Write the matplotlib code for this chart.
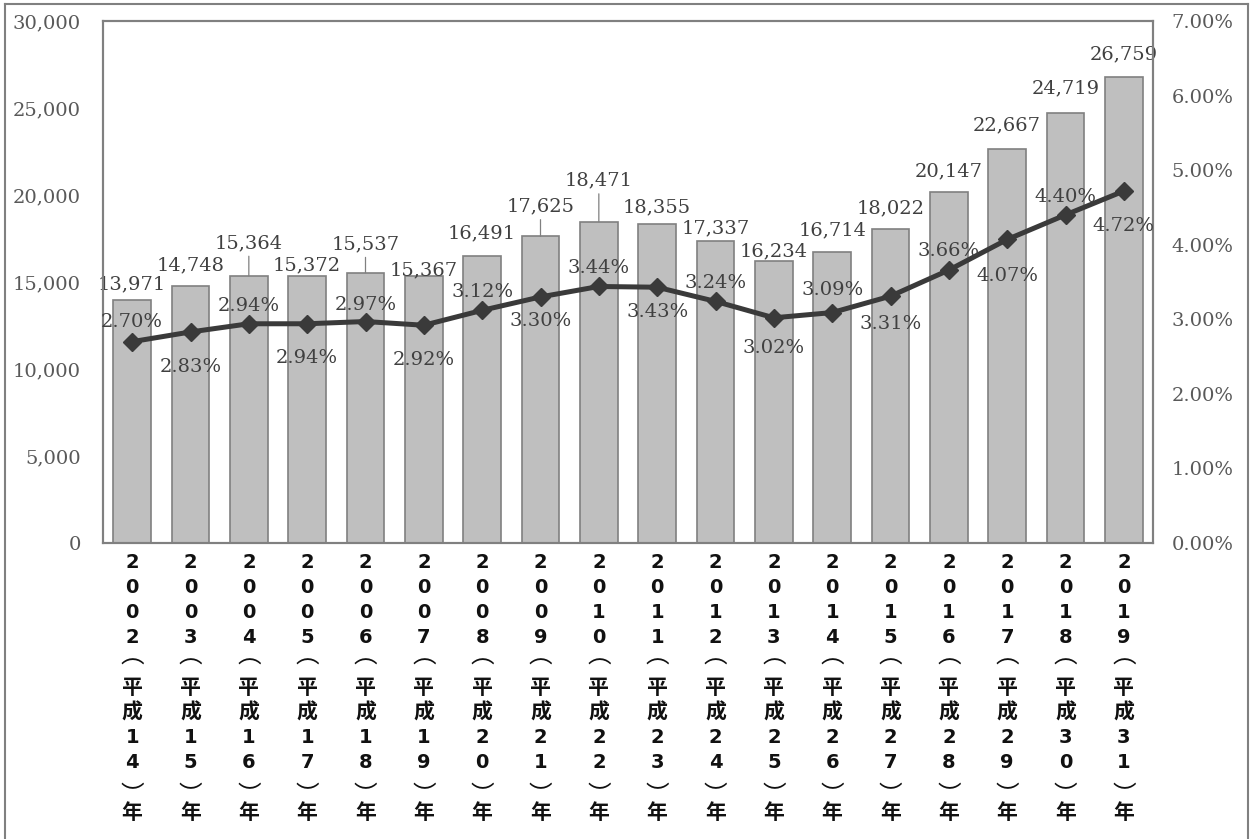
"""Bar + line chart: annual counts (left axis) and share (right axis), 2002-2019."""

import matplotlib
matplotlib.use("Agg")
import matplotlib.pyplot as plt
from matplotlib.lines import Line2D
from matplotlib.ticker import FuncFormatter, MultipleLocator

# --- data --------------------------------------------------------------------
years = [2002, 2003, 2004, 2005, 2006, 2007, 2008, 2009, 2010,
         2011, 2012, 2013, 2014, 2015, 2016, 2017, 2018, 2019]
heisei = [14, 15, 16, 17, 18, 19, 20, 21, 22,
          23, 24, 25, 26, 27, 28, 29, 30, 31]
counts = [13971, 14748, 15364, 15372, 15537, 15367, 16491, 17625, 18471,
          18355, 17337, 16234, 16714, 18022, 20147, 22667, 24719, 26759]
shares = [2.70, 2.83, 2.94, 2.94, 2.97, 2.92, 3.12, 3.30, 3.44,
          3.43, 3.24, 3.02, 3.09, 3.31, 3.66, 4.07, 4.40, 4.72]

# label placement (points above bar top / relative to marker)
count_lift = [5, 9, 17, 1, 14, -3, 10, 15, 23, 5, 3, 0, 9, 9, 9, 10, 11, 10]
share_off = [14, -25, 13, -25, 12, -25, 13, -17, 13, -18, 13, -22, 16, -20, 14, -26, 13, -25]
leader = {2, 4, 7, 8}

GRAY = "#808080"
TXT = "#595959"
SERIF = "DejaVu Serif"
JP = ["Noto Sans CJK JP", "DejaVu Sans"]
OPEN, CLOSE = "\ufe35", "\ufe36"   # vertical-form brackets

fig = plt.figure(figsize=(12.53, 8.39), dpi=100)
W, H = 1253, 839
ax = fig.add_axes([103 / W, (H - 543) / H, (1153 - 103) / W, (543 - 21) / H])
ax2 = ax.twinx()

x = list(range(len(years)))
ax.bar(x, counts, width=0.65, color="#bfbfbf", edgecolor=GRAY, linewidth=1.2, zorder=2)
ax.set_xlim(-0.5, len(years) - 0.5)
ax.set_ylim(0, 30000)
ax.yaxis.set_major_locator(MultipleLocator(5000))
ax.yaxis.set_major_formatter(FuncFormatter(lambda v, _: f"{v:,.0f}"))

ax2.set_ylim(0, 7)
ax2.yaxis.set_major_locator(MultipleLocator(1))
ax2.yaxis.set_major_formatter(FuncFormatter(lambda v, _: f"{v:.2f}%"))
ax2.plot(x, shares, color="#3a3a3a", lw=3.6, marker="D", markersize=9.5, zorder=5)

for a in (ax, ax2):
    for s in a.spines.values():
        s.set_color(GRAY)
        s.set_linewidth(1.5)
    a.tick_params(length=0, labelsize=14, labelcolor=TXT)
    for lab in a.get_yticklabels():
        lab.set_fontfamily(SERIF)
ax.tick_params(axis="y", pad=16)
ax2.tick_params(axis="y", pad=13.5)
ax.set_xticks(x)
ax.set_xticklabels([])

# value labels on bars
for i, v in enumerate(counts):
    kw = {}
    if i in leader:
        kw["arrowprops"] = dict(arrowstyle="-", color=GRAY, lw=0.9, shrinkA=1, shrinkB=0)
    ax.annotate(f"{v:,}", xy=(i, v), xytext=(0, count_lift[i]), textcoords="offset points",
                ha="center", va="bottom", fontsize=14, family=SERIF, color="#404040",
                zorder=6, **kw)

# share labels alternating above / below the line
for i, p in enumerate(shares):
    ax2.annotate(f"{p:.2f}%", xy=(i, p), xytext=(0, share_off[i]), textcoords="offset points",
                 ha="center", va="center", fontsize=14, family=SERIF, color="#404040", zorder=6)

# stacked vertical category labels: digits, brackets, kanji
for i, (yr, h) in enumerate(zip(years, heisei)):
    chars = list(str(yr)) + [OPEN, "平", "成"] + list(str(h)) + [CLOSE, "年"]
    for k, ch in enumerate(chars):
        dy = 0
        style = dict(fontsize=15, fontweight="bold", family=JP)
        if ch.isdigit():
            style = dict(fontsize=14, fontweight="bold", family="DejaVu Sans")
        elif ch == OPEN:
            style = dict(fontsize=17, fontweight="normal", family=JP)
            dy = 4
        elif ch == CLOSE:
            style = dict(fontsize=17, fontweight="normal", family=JP)
            dy = -6
        ax.annotate(ch, xy=(i, 0), xycoords=ax.get_xaxis_transform(),
                    xytext=(0, -14 - 18 * k + dy), textcoords="offset points",
                    ha="center", va="center", color="#111111",
                    annotation_clip=False, **style)

# outer frame (top, left, right)
fig.add_artist(Line2D([5 / W, 5 / W], [0, 1 - 4 / H], color=GRAY, lw=1.5))
fig.add_artist(Line2D([5 / W, 1248 / W], [1 - 4 / H, 1 - 4 / H], color=GRAY, lw=1.5))
fig.add_artist(Line2D([1248 / W, 1248 / W], [0, 1 - 4 / H], color=GRAY, lw=1.5))

fig.savefig("out.png", dpi=100)
